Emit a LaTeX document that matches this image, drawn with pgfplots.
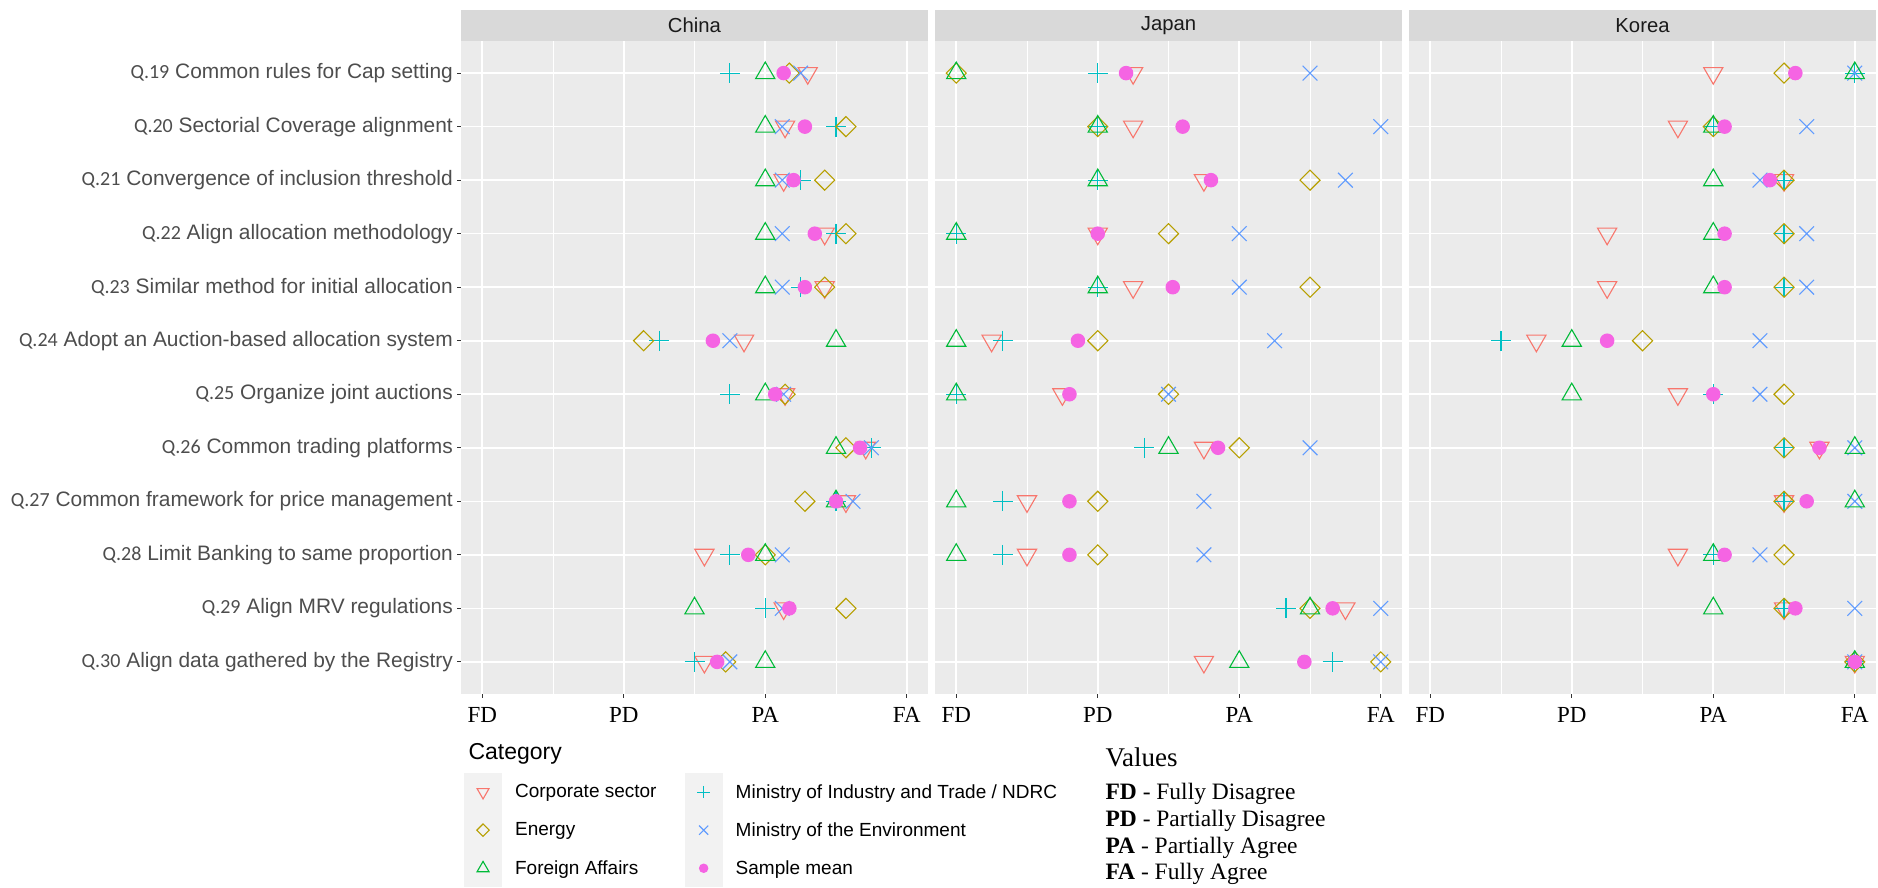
\documentclass[border=0pt]{standalone}
\usepackage{fontspec}
\setmainfont{Liberation Sans}
\newfontfamily\seriffont{Liberation Serif}
\newfontfamily\qfont{Carlito}
\usepackage{pgfplots}
\usepackage{pgfplotstable}
\pgfplotsset{compat=1.18}

\definecolor{cCorp}{HTML}{F8766D}
\definecolor{cEnergy}{HTML}{B79F00}
\definecolor{cForeign}{HTML}{00BA38}
\definecolor{cMinInd}{HTML}{00BFC4}
\definecolor{cMinEnv}{HTML}{619CFF}
\definecolor{cMean}{HTML}{F564E3}
\definecolor{panelbg}{HTML}{EBEBEB}
\definecolor{stripbg}{HTML}{D9D9D9}
\definecolor{striptext}{HTML}{1A1A1A}
\definecolor{axtext}{HTML}{4D4D4D}
\definecolor{tickcol}{HTML}{333333}
\definecolor{keybg}{HTML}{F2F2F2}

% y: 12 = Q.19 ... 1 = Q.30
\pgfplotstableread{
y corp energy foreign minind minenv mean
12 3.30 3.17 3.00 2.75 3.25 3.13
11 3.14 3.57 3.00 3.50 3.12 3.28
10 3.13 3.42 3.00 3.25 3.12 3.20
9  3.42 3.57 3.00 3.50 3.12 3.35
8  3.42 3.42 3.00 3.25 3.12 3.28
7  2.85 2.14 3.50 2.25 2.75 2.63
6  3.14 3.14 3.00 2.75 3.13 3.07
5  3.71 3.57 3.50 3.75 3.75 3.67
4  3.57 3.28 3.50 3.50 3.62 3.50
3  2.57 3.00 3.00 2.75 3.12 2.88
2  3.13 3.57 2.50 3.00 3.12 3.17
1  2.57 2.72 3.00 2.50 2.75 2.66
}\china

\pgfplotstableread{
y corp energy foreign minind minenv mean
12 2.25 1.00 1.00 2.00 3.50 2.20
11 2.25 2.00 2.00 2.00 4.00 2.60
10 2.75 3.50 2.00 2.00 3.75 2.80
9  2.00 2.50 1.00 1.00 3.00 2.00
8  2.25 3.50 2.00 2.00 3.00 2.53
7  1.25 2.00 1.00 1.33 3.25 1.86
6  1.75 2.50 1.00 1.00 2.50 1.80
5  2.75 3.00 2.50 2.33 3.50 2.85
4  1.50 2.00 1.00 1.33 2.75 1.80
3  1.50 2.00 1.00 1.33 2.75 1.80
2  3.75 3.50 3.50 3.33 4.00 3.66
1  2.75 4.00 3.00 3.66 4.00 3.46
}\japan

\pgfplotstableread{
y corp energy foreign minind minenv mean
12 3.00 3.50 4.00 4.00 4.00 3.58
11 2.75 3.00 3.00 3.00 3.66 3.08
10 3.50 3.50 3.00 3.50 3.33 3.40
9  2.25 3.50 3.00 3.50 3.66 3.08
8  2.25 3.50 3.00 3.50 3.66 3.08
7  1.75 2.50 2.00 1.50 3.33 2.25
6  2.75 3.50 2.00 3.00 3.33 3.00
5  3.75 3.50 4.00 3.50 4.00 3.75
4  3.50 3.50 4.00 3.50 4.00 3.66
3  2.75 3.50 3.00 3.00 3.33 3.08
2  3.50 3.50 3.00 3.50 4.00 3.58
1  4.00 4.00 4.00 4.00 4.00 4.00
}\korea

\newcommand\Q[1]{{\qfont\fontsize{20}{24}\selectfont Q.#1}\ }

\pgfplotsset{
  corp/.style={only marks, color=cCorp, mark=triangle, mark size=11.1pt, mark options={rotate=180}, line width=1.1pt},
  energy/.style={only marks, color=cEnergy, mark=square, mark size=7.1pt, mark options={rotate=45}, line width=1.1pt},
  foreign/.style={only marks, color=cForeign, mark=triangle, mark size=11.1pt, line width=1.1pt},
  minind/.style={only marks, color=cMinInd, mark=+, mark size=10pt, line width=1.1pt},
  minenv/.style={only marks, color=cMinEnv, mark=x, mark size=10.4pt, line width=1.1pt},
  meanst/.style={only marks, color=cMean, mark=*, mark size=6.7pt, line width=1.1pt},
  panel/.style={
    scale only axis, width=467pt, height=653pt,
    xmin=0.85, xmax=4.15, ymin=0.4, ymax=12.6,
    axis background/.style={fill=panelbg},
    axis line style={draw=none},
    xtick={1,2,3,4}, xticklabels={FD,PD,PA,FA},
    minor xtick={1.5,2.5,3.5},
    ytick={1,2,...,12},
    xmajorgrids, xminorgrids, ymajorgrids,
    major grid style={white, line width=1.6pt},
    minor grid style={white, line width=0.8pt},
    tick align=outside, major tick length=4pt, minor tick length=0pt,
    tick style={tickcol, line width=0.9pt},
    xtick pos=bottom, ytick pos=left,
    xticklabel style={font=\seriffont\fontsize{23}{27}\selectfont, text=black, inner sep=0pt, anchor=north, yshift=-9.5pt},
    every axis title/.style={at={(0.5,1)}, anchor=south, fill=stripbg, minimum width=467pt, minimum height=31pt, inner sep=0pt, outer sep=0pt, font=\fontsize{20.3}{24}\selectfont, text=striptext},
    clip=false,
  },
}

\begin{document}
\begin{tikzpicture}
\useasboundingbox (0pt,0pt) rectangle (1878pt,888pt);

\begin{axis}[panel, at={(461pt,194pt)}, anchor=south west, title={China},
  yticklabels={\Q{30}Align data gathered by the Registry,
               \Q{29}Align MRV regulations,
               \Q{28}Limit Banking to same proportion,
               \Q{27}Common framework for price management,
               \Q{26}Common trading platforms,
               \Q{25}Organize joint auctions,
               \Q{24}Adopt an Auction-based allocation system,
               \Q{23}Similar method for initial allocation,
               \Q{22}Align allocation methodology,
               \Q{21}Convergence of inclusion threshold,
               \Q{20}Sectorial Coverage alignment,
               \Q{19}Common rules for Cap setting},
  yticklabel style={font=\fontsize{20.9}{25}\selectfont, text=axtext, anchor=east, inner sep=0pt, xshift=-4pt},
  legend columns=2, legend cell align=left,
  legend style={at={(0.00642,-0.121)}, anchor=north west, draw=none, fill=none,
    inner sep=0pt, outer sep=0pt, row sep=0pt,
    font=\fontsize{19}{22}\selectfont,
    nodes={inner sep=0pt, text=black},
    /tikz/every odd column/.append style={column sep=13pt},
    /tikz/every even column/.append style={column sep=28pt}},
  legend image code/.code={
    \fill[keybg] (-18.5pt,-18.5pt) rectangle (18.5pt,18.5pt);
    \draw[every mark/.append style={scale=0.62}] plot coordinates {(0pt,0pt)};
  },
]
\addplot[corp] table[x=corp,y=y]{\china}; \addlegendentry{Corporate sector}
\addplot[minind] table[x=minind,y=y]{\china}; \addlegendentry{Ministry of Industry and Trade / NDRC}
\addplot[energy] table[x=energy,y=y]{\china}; \addlegendentry{Energy}
\addplot[minenv] table[x=minenv,y=y]{\china}; \addlegendentry{Ministry of the Environment}
\addplot[foreign] table[x=foreign,y=y]{\china}; \addlegendentry{Foreign Affairs}
\addplot[meanst] table[x=mean,y=y]{\china}; \addlegendentry{Sample mean}
\end{axis}

\begin{axis}[panel, at={(935pt,194pt)}, anchor=south west, title={Japan},
  yticklabels={}, ytick style={draw=none}]
\addplot[corp] table[x=corp,y=y]{\japan};
\addplot[minind] table[x=minind,y=y]{\japan};
\addplot[energy] table[x=energy,y=y]{\japan};
\addplot[minenv] table[x=minenv,y=y]{\japan};
\addplot[foreign] table[x=foreign,y=y]{\japan};
\addplot[meanst] table[x=mean,y=y]{\japan};
\end{axis}

\begin{axis}[panel, at={(1409pt,194pt)}, anchor=south west, title={Korea},
  yticklabels={}, ytick style={draw=none}]
\addplot[corp] table[x=corp,y=y]{\korea};
\addplot[minind] table[x=minind,y=y]{\korea};
\addplot[energy] table[x=energy,y=y]{\korea};
\addplot[minenv] table[x=minenv,y=y]{\korea};
\addplot[foreign] table[x=foreign,y=y]{\korea};
\addplot[meanst] table[x=mean,y=y]{\korea};
\end{axis}

\node[anchor=base west, font=\fontsize{23}{27}\selectfont, text=black] at (465pt,128pt) {Category};

\node[anchor=base west, font=\seriffont\fontsize{27}{31}\selectfont, text=black] at (1102pt,121.4pt) {Values};
\node[anchor=base west, font=\seriffont\fontsize{23.5}{27}\selectfont, text=black] at (1102pt,88.5pt) {\textbf{FD} - Fully Disagree};
\node[anchor=base west, font=\seriffont\fontsize{23.5}{27}\selectfont, text=black] at (1102pt,61.5pt) {\textbf{PD} - Partially Disagree};
\node[anchor=base west, font=\seriffont\fontsize{23.5}{27}\selectfont, text=black] at (1102pt,34.5pt) {\textbf{PA} - Partially Agree};
\node[anchor=base west, font=\seriffont\fontsize{23.5}{27}\selectfont, text=black] at (1102pt,8.5pt) {\textbf{FA} - Fully Agree};
\end{tikzpicture}
\end{document}
